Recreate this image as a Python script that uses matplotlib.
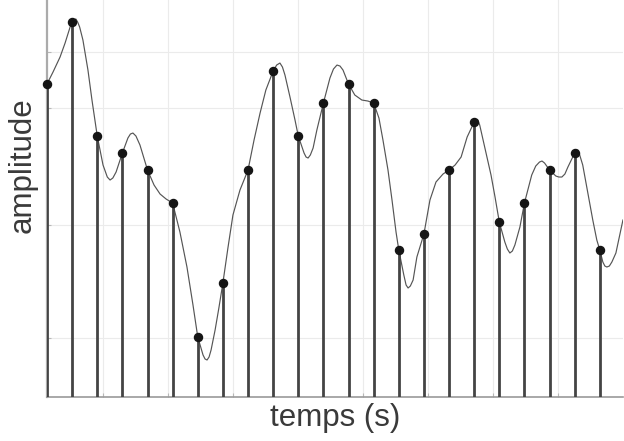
import matplotlib
matplotlib.use("Agg")
import matplotlib.pyplot as plt

# sampled values (sample index -> amplitude)
n_samples = list(range(23))
amp_samples = [3.13, 3.75, 2.61, 2.44, 2.27, 1.94, 0.60, 1.14, 2.27, 3.26, 2.61, 2.94,
               3.13, 2.94, 1.47, 1.63, 2.27, 2.75, 1.75, 1.94, 2.27, 2.44, 1.47]

# continuous signal
t_curve = [0.00, 0.24, 0.52, 0.72, 0.92, 1.00, 1.08, 1.15, 1.22, 1.30, 1.43, 1.63,
           1.79, 2.00, 2.23, 2.40, 2.51, 2.62, 2.75, 3.00, 3.22, 3.32, 3.42, 3.54,
           3.70, 4.00, 4.26, 4.50, 4.74, 5.00, 5.29, 5.57, 5.81, 6.00, 6.21, 6.29,
           6.37, 6.45, 6.53, 6.69, 6.84, 7.00, 7.20, 7.40, 7.68, 8.00, 8.24, 8.48,
           8.71, 9.00, 9.14, 9.27, 9.37, 9.47, 9.67, 9.87, 10.00, 10.23, 10.31, 10.39,
           10.48, 10.59, 10.74, 11.00, 11.26, 11.40, 11.54, 11.66, 11.78, 12.00, 12.25,
           12.53, 12.77, 13.00, 13.21, 13.37, 13.57, 13.73, 13.89, 14.00, 14.20, 14.29,
           14.37, 14.46, 14.57, 14.72, 15.00, 15.24, 15.48, 15.76, 16.00, 16.24, 16.48,
           16.72, 17.00, 17.07, 17.14, 17.22, 17.31, 17.51, 17.67, 17.83, 18.00, 18.22,
           18.32, 18.42, 18.52, 18.62, 18.82, 19.00, 19.29, 19.45, 19.60, 19.70, 19.80,
           20.00, 20.25, 20.37, 20.49, 20.61, 20.73, 21.00, 21.06, 21.12, 21.20, 21.32,
           21.48, 21.72, 21.88, 22.00, 22.12, 22.20, 22.28, 22.38, 22.48, 22.64, 22.92]
amp_curve = [3.13, 3.25, 3.40, 3.54, 3.70, 3.75, 3.77, 3.78, 3.75, 3.70, 3.57, 3.27,
             2.97, 2.61, 2.32, 2.20, 2.17, 2.19, 2.25, 2.44, 2.59, 2.63, 2.64, 2.61,
             2.52, 2.27, 2.12, 2.03, 1.98, 1.94, 1.65, 1.30, 0.92, 0.60, 0.42, 0.38,
             0.37, 0.40, 0.47, 0.67, 0.89, 1.14, 1.49, 1.82, 2.07, 2.27, 2.57, 2.84,
             3.07, 3.26, 3.32, 3.34, 3.30, 3.22, 3.00, 2.77, 2.61, 2.44, 2.40, 2.39,
             2.42, 2.49, 2.67, 2.94, 3.19, 3.28, 3.32, 3.31, 3.27, 3.13, 3.02,
             2.97, 2.96, 2.94, 2.79, 2.57, 2.27, 1.97, 1.65, 1.47, 1.22, 1.12,
             1.09, 1.11, 1.17, 1.40, 1.63, 1.97, 2.15, 2.23, 2.27, 2.32, 2.40,
             2.60, 2.75, 2.77, 2.77, 2.72, 2.62, 2.40, 2.22, 2.00, 1.75, 1.55,
             1.48, 1.44, 1.46, 1.52, 1.70, 1.94, 2.22, 2.31, 2.35, 2.36, 2.34,
             2.27, 2.21, 2.20, 2.20, 2.23, 2.30, 2.44, 2.46, 2.47, 2.42, 2.32,
             2.10, 1.77, 1.57, 1.47, 1.35, 1.31, 1.30, 1.31, 1.35, 1.44, 1.77]

x_grid = [2.23, 4.82, 7.40, 9.99, 12.58, 15.16, 17.75, 20.34]
y_grid = [0.59, 1.72, 2.89, 3.45]

plt.rcParams['font.family'] = ['Liberation Sans', 'DejaVu Sans']

fig = plt.figure(figsize=(6.24, 4.41), dpi=100)
ax = fig.add_axes([0.0753, 0.0998, 0.923, 1.052])

ax.plot(t_curve, amp_curve, color='#555555', lw=0.85, zorder=2,
        solid_joinstyle='round')
ax.vlines(n_samples, 0, amp_samples, color='#444444', lw=2.0, zorder=3)
ax.plot(n_samples, amp_samples, 'o', color='#151515', ms=5.8, zorder=4, clip_on=False)

ax.set_xlim(0, 22.92)
ax.set_ylim(0, 4.64)
ax.set_xticks(x_grid)
ax.set_yticks(y_grid)
ax.set_xticklabels([])
ax.set_yticklabels([])
ax.grid(True, color='#ebebeb', lw=0.8, zorder=0)
ax.tick_params(direction='in', length=3, color='#b8b8b8')

for side in ['top', 'right']:
    ax.spines[side].set_visible(False)
ax.spines['left'].set_color('#ababab')
ax.spines['left'].set_linewidth(1.6)
ax.spines['bottom'].set_color('#9a9a9a')
ax.spines['bottom'].set_linewidth(1.2)

ax.set_xlabel('temps (s)', fontsize=22.5, color='#3a3a3a')
ax.set_ylabel('amplitude', fontsize=22.5, color='#3a3a3a')
ax.xaxis.set_label_coords(0.5, -0.012)
ax.yaxis.set_label_coords(-0.017, 0.5)

fig.savefig('out.png', dpi=100)
